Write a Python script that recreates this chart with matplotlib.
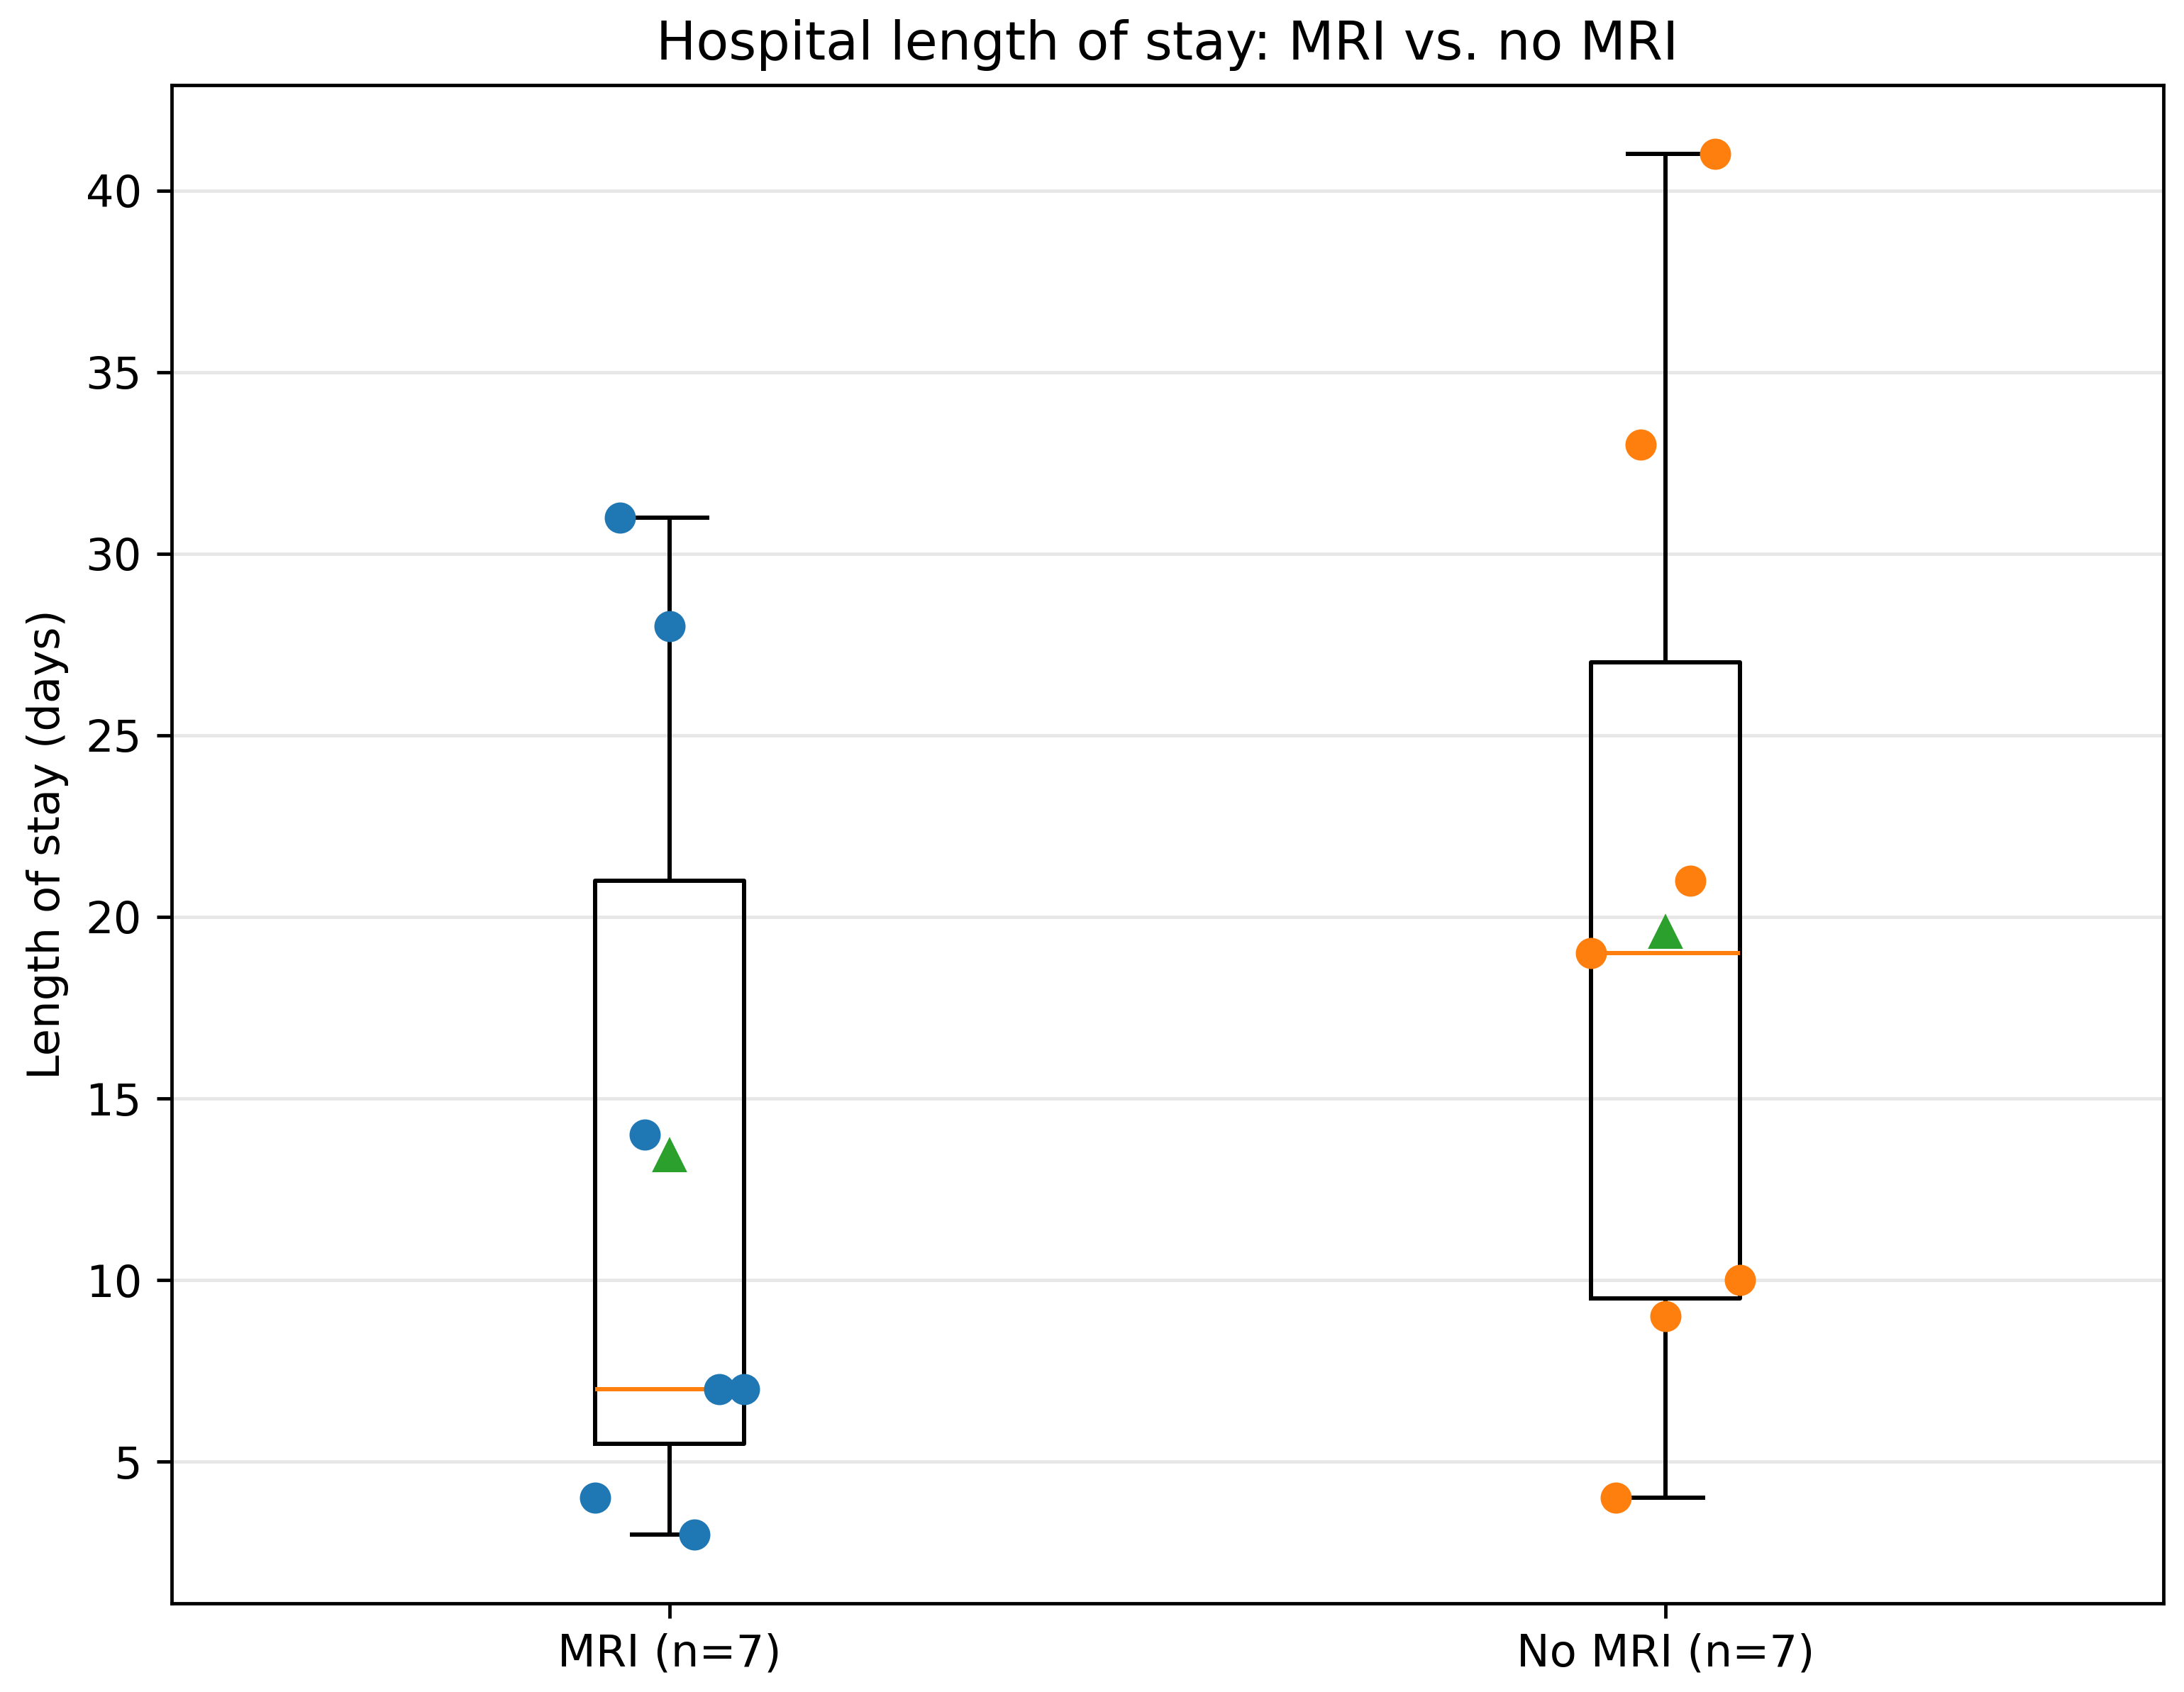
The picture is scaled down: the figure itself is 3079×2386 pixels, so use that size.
import numpy as np
from matplotlib import pyplot as plt

# length of stay (days) per patient
mri_days = [31, 28, 14, 7, 7, 4, 3]
no_mri_days = [41, 33, 21, 19, 10, 9, 4]
# horizontal jitter used for the dots
mri_jitter = [-0.05, 0.0, -0.025, 0.05, 0.075, -0.075, 0.025]
no_mri_jitter = [0.05, -0.025, 0.025, -0.075, 0.075, 0.0, -0.05]
group_labels = ["MRI (n=7)", "No MRI (n=7)"]

plt.rcParams['font.family'] = 'DejaVu Sans'
fig = plt.figure(figsize=(3079 / 432, 2386 / 432), dpi=432)
ax = fig.add_axes([0.0786, 0.0524, 0.9906 - 0.0786, 0.9497 - 0.0524])

ax.boxplot([mri_days, no_mri_days], widths=0.15, showmeans=True,
           showfliers=False, tick_labels=group_labels,
           meanprops=dict(markersize=6.8))

for pos, days, jit, col in [(1, mri_days, mri_jitter, 'C0'),
                            (2, no_mri_days, no_mri_jitter, 'C1')]:
    xs = pos + np.array(jit)
    ax.scatter(xs, days, s=40, color=col, zorder=3)

ax.yaxis.grid(True, alpha=0.3)
ax.set_axisbelow(True)
ax.tick_params(labelsize=10.4)
ax.set_ylabel('Length of stay (days)', fontsize=10.4)
ax.set_title('Hospital length of stay: MRI vs. no MRI', fontsize=12.5)

fig.savefig('out.png', dpi=432)
